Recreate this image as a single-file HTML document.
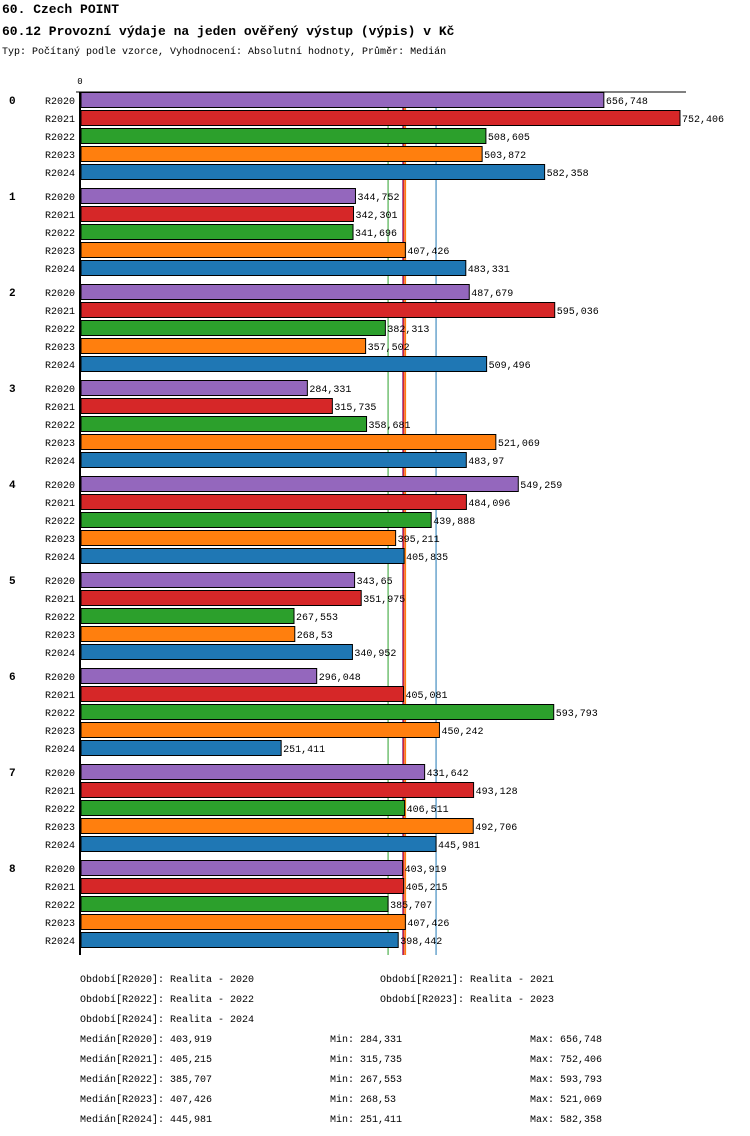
<!DOCTYPE html>
<html><head><meta charset="utf-8"><style>
body{margin:0;background:#fff;width:750px;height:1136px;overflow:hidden}
svg{font-family:"Liberation Mono",monospace;display:block}
</style></head><body>
<svg id="c" width="750" height="1136">
<text x="2" y="13" font-size="13" font-weight="bold">60. Czech POINT</text>
<text x="2" y="35" font-size="13" font-weight="bold">60.12 Provozní výdaje na jeden ověřený výstup (výpis) v Kč</text>
<text x="2" y="54" font-size="10">Typ: Počítaný podle vzorce, Vyhodnocení: Absolutní hodnoty, Průměr: Medián</text>
<g id="plot"></g>
<g id="foot"></g>
</svg>
<script>
const groups=["0","1","2","3","4","5","6","7","8"];
const series=["R2020","R2021","R2022","R2023","R2024"];
const colors=["#9467bd","#d62728","#2ca02c","#ff7f0e","#1f77b4"];
const v2020=[656748,344752,487679,284331,549259,343650,296048,431642,403919];
const v2021=[752406,342301,595036,315735,484096,351975,405081,493128,405215];
const v2022=[508605,341696,382313,358681,439888,267553,593793,406511,385707];
const v2023=[503872,407426,357502,521069,395211,268530,450242,492706,407426];
const v2024=[582358,483331,509496,483970,405835,340952,251411,445981,398442];
const values=[v2020,v2021,v2022,v2023,v2024];
const medians=[403919,405215,385707,407426,445981];
const mins=[284331,315735,267553,268530,251411];
const maxs=[656748,752406,593793,521069,582358];
const NS="http://www.w3.org/2000/svg";
const x0=81,maxV=752406,W=599;
const xs=v=>x0+v/maxV*W;
const fmt=v=>{let s=String(v/1000).replace('.',',');return s;};
function mk(t,a,p){const e=document.createElementNS(NS,t);for(const k in a)e.setAttribute(k,a[k]);p.appendChild(e);return e;}
const plot=document.getElementById('plot');
const top0=92,gp=96,sp=18;
mk('text',{x:80,y:84,'font-size':9,'text-anchor':'middle'},plot).textContent='0';
mk('line',{x1:76,y1:92,x2:686,y2:92,stroke:'#000','stroke-width':1},plot);
// grid lines at medians
medians.forEach((m,i)=>{
 const l=mk('line',{x1:xs(m),y1:92,x2:xs(m),y2:955,stroke:colors[i],'stroke-width':(i==1||i==3)?1.5:1},plot);
 
 
});
groups.forEach((g,gi)=>{
 const gy=top0+gi*gp;
 const gl=mk('text',{x:9,y:gy+12,'font-size':11,'font-weight':'bold'},plot);gl.textContent=g;
 
 
 series.forEach((s,si)=>{
  const y=gy+si*sp;const v=values[si][gi];
  const t=mk('text',{x:75,y:y+12,'font-size':10,'text-anchor':'end'},plot);t.textContent=s;
  
  
  const r=mk('rect',{x:x0,y:y+0.5,width:xs(v)-x0,height:15,fill:colors[si],stroke:'#000','stroke-width':1},plot);
  
  
  const vl=mk('text',{x:xs(v)+2,y:y+12,'font-size':10},plot);vl.textContent=fmt(v);
  
  
 });
});
mk('line',{x1:80,y1:92,x2:80,y2:955,stroke:'#000','stroke-width':2},plot);
const foot=document.getElementById('foot');
const leg=[[80,978,"Období[R2020]: Realita - 2020"],[380,978,"Období[R2021]: Realita - 2021"],[80,998,"Období[R2022]: Realita - 2022"],[380,998,"Období[R2023]: Realita - 2023"],[80,1018,"Období[R2024]: Realita - 2024"]];
leg.forEach(l=>{const t=mk('text',{x:l[0],y:l[1]+4,'font-size':10},foot);t.textContent=l[2];
 
 });
series.forEach((s,i)=>{const y=1042+i*20;
 const a=mk('text',{x:80,y:y,'font-size':10},foot);a.textContent='Medián['+s+']: '+fmt(medians[i]);
 
 
 const b=mk('text',{x:330,y:y,'font-size':10},foot);b.textContent='Min: '+fmt(mins[i]);
 
 
 const c=mk('text',{x:530,y:y,'font-size':10},foot);c.textContent='Max: '+fmt(maxs[i]);
 
 
});
</script>
</body></html>
